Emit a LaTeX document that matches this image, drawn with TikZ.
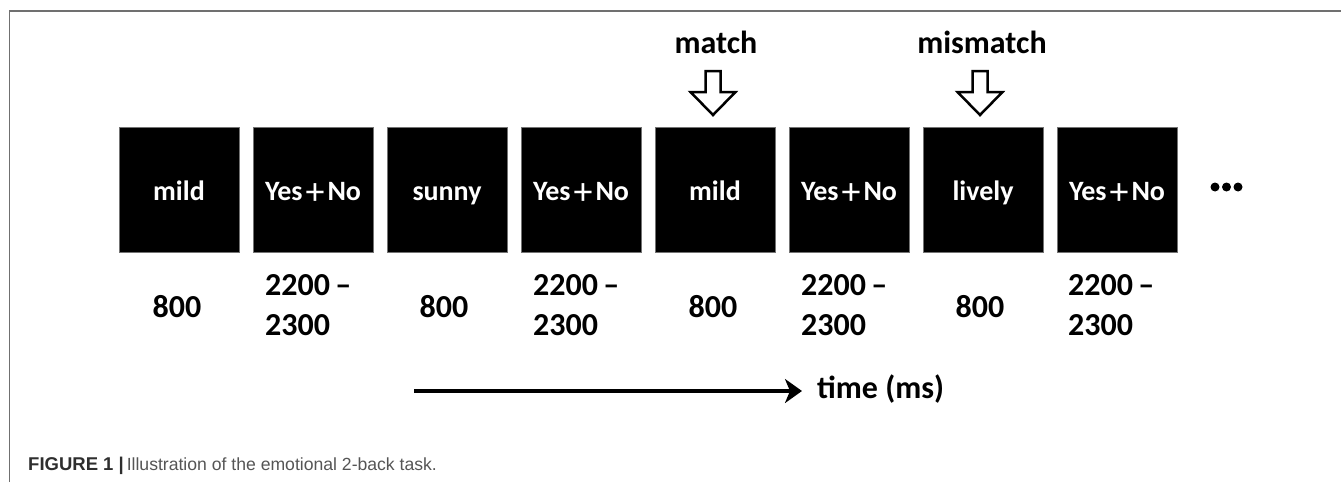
\documentclass[tikz,border=0pt]{standalone}
\usepackage{fontspec}
\setmainfont{Carlito}
\newfontfamily\capfont{Liberation Sans}
\usetikzlibrary{arrows.meta}

\definecolor{framegray}{HTML}{707070}
\definecolor{capdark}{HTML}{2E2E2E}
\definecolor{caplight}{HTML}{555555}

% the plus sign between the two response options
\newcommand{\yesno}{Yes\hspace{3pt}\raisebox{-4pt}{\mdseries\fontsize{38}{38}\selectfont +}\hspace{3pt}No}

\tikzset{
  screen/.style={draw=black!55, line width=0.6pt, fill=black, text=white,
    minimum width=120pt, minimum height=125pt, inner sep=0pt,
    text height=27pt, text depth=6pt,
    font=\fontsize{28}{30}\selectfont\bfseries},
  dur/.style={inner sep=0pt, anchor=base, font=\fontsize{32}{36}\selectfont\bfseries},
  durl/.style={dur, anchor=base west},
  tag/.style={inner sep=0pt, anchor=base, font=\fontsize{32}{36}\selectfont\bfseries},
  hollowdown/.pic={
    \draw[line width=2.5pt, fill=white, line join=miter]
      (-7.5,-44) -- (7.5,-44) -- (7.5,-23) -- (22.5,-23) -- (0,0)
      -- (-22.5,-23) -- (-7.5,-23) -- cycle;
  },
  timeline/.style={line width=3.5pt,
    -{Stealth[length=17pt, width=24pt, inset=5pt]}},
}

\begin{document}
\begin{tikzpicture}[x=1pt, y=-1pt]
\useasboundingbox (0,0) rectangle (1341,482);

% page frame
\draw[framegray, line width=1.5pt] (9.5,482) -- (9.5,11) -- (1341,11);

% stimulus screens
\node[screen] (s1) at (179,189.5) {mild};
\node[screen] (s2) at (313,189.5) {\yesno};
\node[screen] (s3) at (447,189.5) {sunny};
\node[screen] (s4) at (581,189.5) {\yesno};
\node[screen] (s5) at (715,189.5) {mild};
\node[screen] (s6) at (849,189.5) {\yesno};
\node[screen] (s7) at (983,189.5) {lively};
\node[screen] (s8) at (1117,189.5) {\yesno};

% continuation dots
\foreach \dx in {1215,1226.5,1238}
  \fill (\dx,187) circle (4.5pt);

% durations
\node[dur] (d1) at (177,317) {800};
\node[durl] (d2a) at (265,295) {2200\,–};
\node[durl] (d2b) at (265,335) {2300};
\node[dur] (d3) at (444,317) {800};
\node[durl] (d4a) at (533,295) {2200\,–};
\node[durl] (d4b) at (533,335) {2300};
\node[dur] (d5) at (713,317) {800};
\node[durl] (d6a) at (801,295) {2200\,–};
\node[durl] (d6b) at (801,335) {2300};
\node[dur] (d7) at (980,317) {800};
\node[durl] (d8a) at (1068,295) {2200\,–};
\node[durl] (d8b) at (1068,335) {2300};

% match / mismatch markers
\node[tag] (lm) at (716,53) {match};
\node[tag] (lmm) at (982,53) {mismatch};
\pic at (713,115) {hollowdown};
\pic at (980,115) {hollowdown};

% time axis
\coordinate (t0) at (414,391);
\node[inner sep=0pt, anchor=west, font=\fontsize{32}{36}\selectfont\bfseries]
  (tl) at (817,389) {time (ms)};
\draw[timeline, shorten >=15pt] (t0) -- (t0 -| tl.west);

% caption
\node[inner sep=0pt, anchor=base west, font=\capfont\fontsize{17.6}{20}\selectfont]
  (cap) at (28,470)
  {\textcolor{capdark}{\bfseries\fontsize{18.5}{20}\selectfont FIGURE 1 |}\,\textcolor{caplight}{Illustration of the emotional 2-back task.}};
\end{tikzpicture}
\end{document}
